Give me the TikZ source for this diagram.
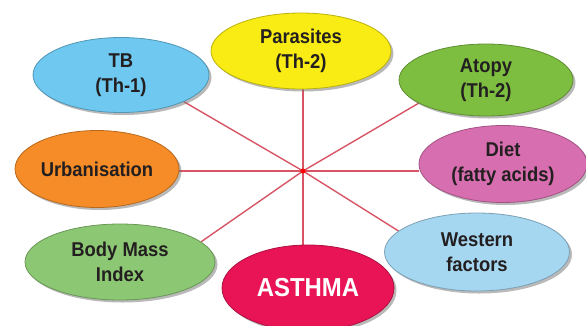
\documentclass[tikz,border=0pt]{standalone}
\usepackage{fontspec}
\setmainfont{Liberation Sans}[FakeStretch=0.92]
\usetikzlibrary{shapes.geometric,shadows,backgrounds}

\definecolor{tbblue}{RGB}{110,200,240}
\definecolor{paryellow}{RGB}{248,236,20}
\definecolor{atopygreen}{RGB}{125,190,65}
\definecolor{urborange}{RGB}{245,140,40}
\definecolor{dietpink}{RGB}{215,110,175}
\definecolor{bmigreen}{RGB}{140,200,115}
\definecolor{asthmared}{RGB}{232,20,85}
\definecolor{westblue}{RGB}{165,215,240}
\definecolor{spokered}{RGB}{215,85,100}
\definecolor{inktext}{RGB}{35,31,32}

\begin{document}
\begin{tikzpicture}[x=1pt, y=-1pt, every node/.style={font=\fontsize{20}{25}\selectfont\bfseries, text=inktext},
	bub/.style={ellipse, draw=#1!75!black, fill=#1, line width=0.8pt, inner sep=0pt, align=center, drop shadow={shadow xshift=2.5pt, shadow yshift=-2.5pt, fill=black!55}},
	spoke/.style={spokered, line width=1.4pt}]
	\useasboundingbox (0,0) rectangle (586,325);
	\node[circle, fill=red, inner sep=0pt, minimum size=5pt] (hub) at (303,171) {};
	\node[bub=tbblue, minimum width=176pt, minimum height=75pt] (tb) at (121,75) {TB\\(Th-1)};
	\node[bub=paryellow, minimum width=180pt, minimum height=76pt] (par) at (301,51) {Parasites\\(Th-2)};
	\node[bub=atopygreen, minimum width=174pt, minimum height=72pt] (atopy) at (486,80) {Atopy\\(Th-2)};
	\node[bub=urborange, minimum width=164pt, minimum height=77pt] (urb) at (97,169) {Urbanisation};
	\node[bub=dietpink, minimum width=168pt, minimum height=77pt] (diet) at (503,164) {Diet\\(fatty acids)};
	\node[bub=bmigreen, minimum width=190pt, minimum height=76pt] (bmi) at (120,262) {Body Mass\\Index};
	\node[bub=westblue, minimum width=185pt, minimum height=78pt] (west) at (477,252) {Western\\factors};
	\node[bub=asthmared, minimum width=172pt, minimum height=86pt, font=\fontsize{26}{30}\selectfont\bfseries, text=white] (asthma) at (308,288) {ASTHMA};
	\begin{scope}[on background layer]
		\foreach \n/\a in {tb/-23, atopy/199, bmi/14, west/165} {\draw[spoke] (hub.center) -- (\n.\a);}
		\draw[spoke] (hub.center) -- (hub -| urb.east);
		\draw[spoke] (hub.center) -- (hub -| diet.west);
		\draw[spoke] (hub.center) -- (hub |- par.south);
		\draw[spoke] (hub.center) -- (hub |- asthma.north);
	\end{scope}
\end{tikzpicture}
\end{document}
